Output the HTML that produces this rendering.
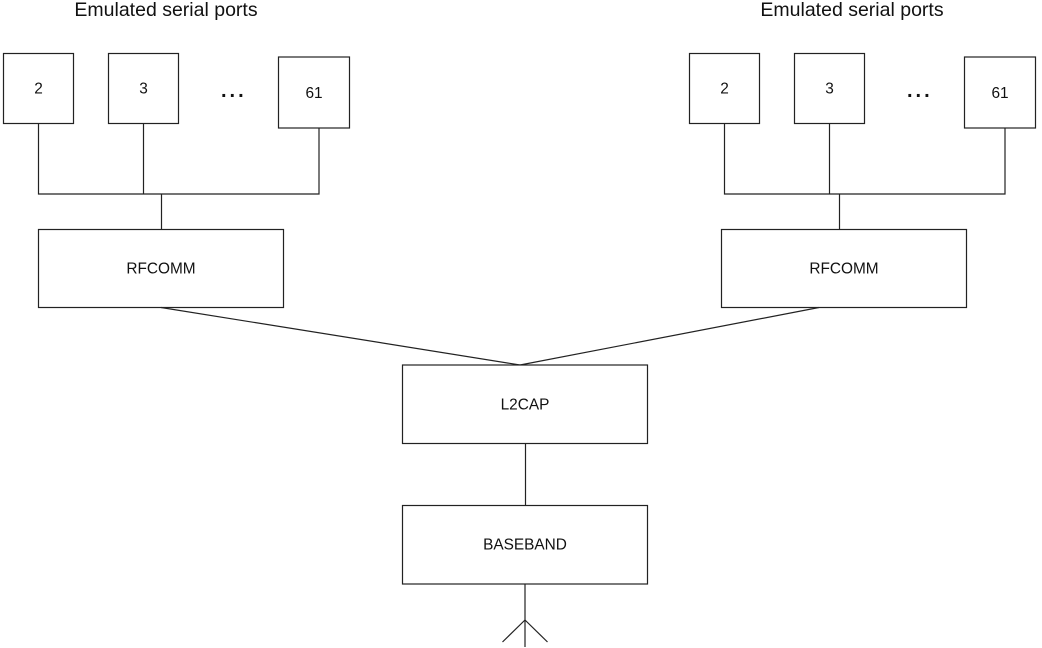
<!DOCTYPE html>
<html>
<head>
<meta charset="utf-8">
<style>
html,body{margin:0;padding:0;background:#fff;width:1042px;height:648px;overflow:hidden}
svg{display:block}
text{font-family:"Liberation Sans",sans-serif;fill:#111;text-anchor:middle}
.t{font-size:19.5px}
.s{font-size:15.4px}
.d{font-size:20px;font-weight:bold;letter-spacing:3px}
rect{fill:#fff;stroke:#222;stroke-width:1.2}
line,polyline{stroke:#222;stroke-width:1.2;fill:none}
</style>
</head>
<body>
<svg width="1042" height="648" viewBox="0 0 1042 648" xmlns="http://www.w3.org/2000/svg">
<text class="t" x="166" y="16">Emulated serial ports</text>
<text class="t" x="852" y="16">Emulated serial ports</text>

<rect x="3.5" y="53.5" width="70" height="70"/>
<rect x="108.5" y="53.5" width="70" height="70"/>
<rect x="278.5" y="57" width="71" height="71"/>
<text class="s" x="38.5" y="93.5">2</text>
<text class="s" x="143.5" y="93.5">3</text>
<text class="s" x="314" y="98">61</text>
<text class="d" x="233.8" y="97">...</text>

<polyline points="38.5,123.5 38.5,194 319,194 319,128"/>
<line x1="143.5" y1="123.5" x2="143.5" y2="194"/>
<line x1="161.5" y1="194" x2="161.5" y2="229.5"/>

<rect x="689.5" y="53.5" width="70" height="70"/>
<rect x="794.5" y="53.5" width="70" height="70"/>
<rect x="964.5" y="57" width="71" height="71"/>
<text class="s" x="724.5" y="93.5">2</text>
<text class="s" x="829.5" y="93.5">3</text>
<text class="s" x="1000" y="98">61</text>
<text class="d" x="919.8" y="97">...</text>

<polyline points="724.5,123.5 724.5,194 1005,194 1005,128"/>
<line x1="829.5" y1="123.5" x2="829.5" y2="194"/>
<line x1="839.5" y1="194" x2="839.5" y2="229.5"/>

<rect x="38.5" y="229.5" width="245" height="78"/>
<rect x="721.5" y="229.5" width="245" height="78"/>
<text class="s" x="161" y="273.5">RFCOMM</text>
<text class="s" x="844" y="273.5">RFCOMM</text>

<line x1="161" y1="307.5" x2="520" y2="365"/>
<line x1="819" y1="307.5" x2="520" y2="365"/>

<rect x="402.5" y="365" width="245" height="78.5"/>
<text class="s" x="525" y="409.5">L2CAP</text>
<line x1="525.5" y1="443.5" x2="525.5" y2="505.5"/>
<rect x="402.5" y="505.5" width="245" height="78.5"/>
<text class="s" x="525" y="549.5">BASEBAND</text>

<line x1="525" y1="584" x2="525" y2="647"/>
<line x1="525" y1="620" x2="502.5" y2="642"/>
<line x1="525" y1="620" x2="547.5" y2="642"/>
</svg>
</body>
</html>
